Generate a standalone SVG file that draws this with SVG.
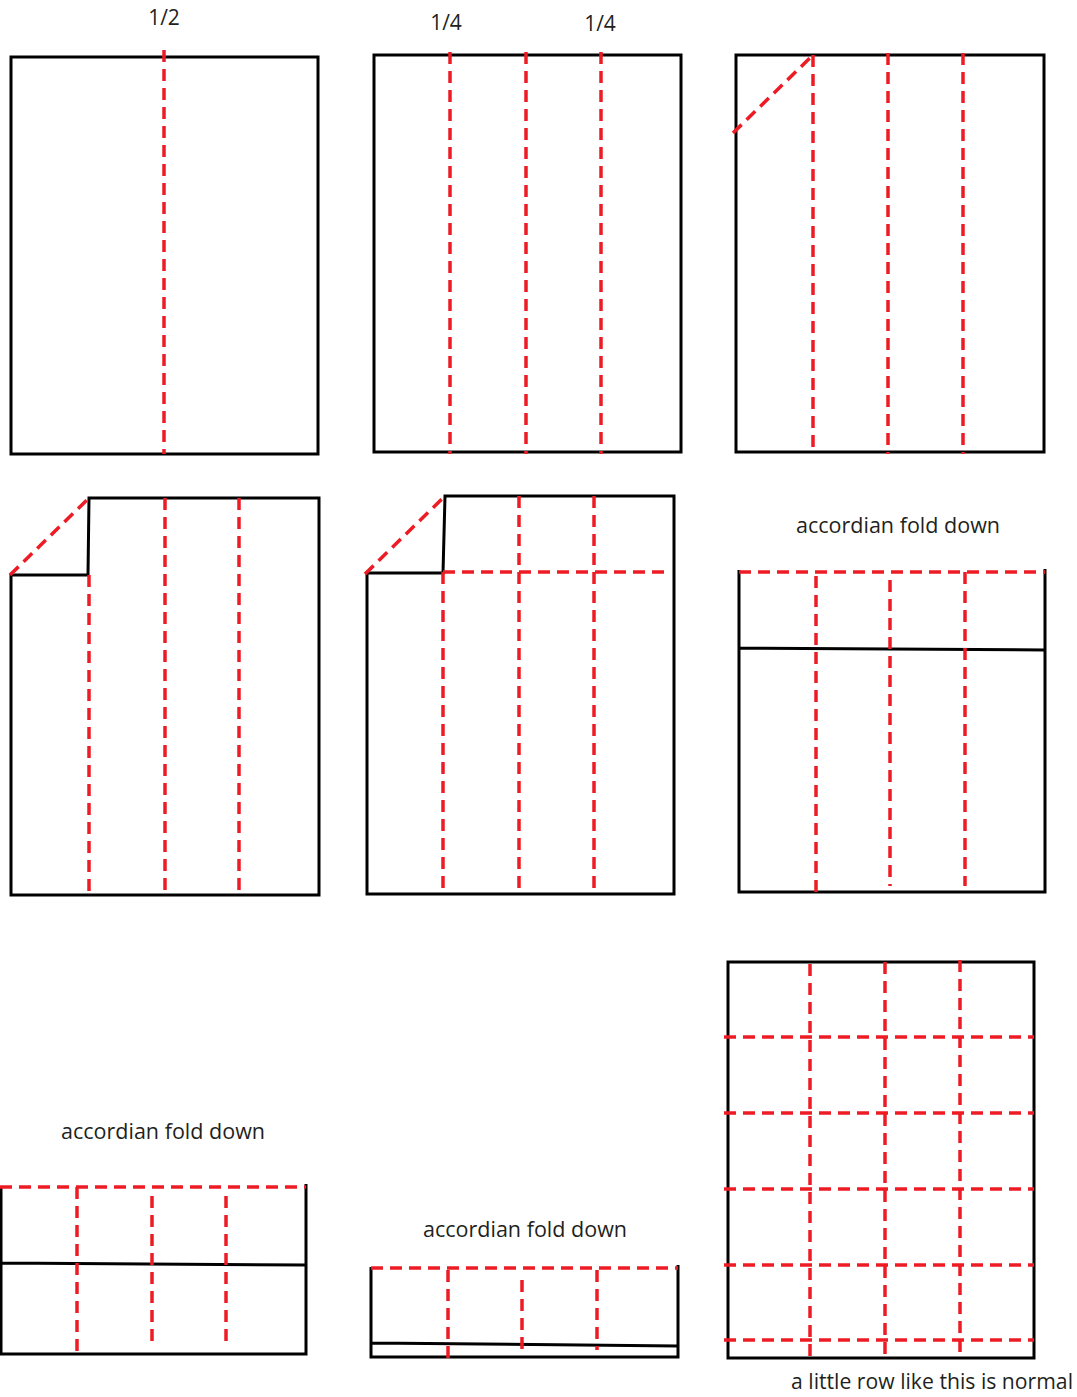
<svg xmlns="http://www.w3.org/2000/svg" width="1077" height="1397" viewBox="0 0 1077 1397">
<style>
.edge{fill:none;stroke:#000;stroke-width:3;stroke-linejoin:miter}
.fold{fill:none;stroke:#ed1c24;stroke-width:3.5;stroke-dasharray:12 7}
.lbl{font-family:"Open Sans","Liberation Sans",sans-serif;font-size:21px;fill:#231f20;text-anchor:middle}
</style>
<rect width="1077" height="1397" fill="#fff"/>
<g id="labels">
<text class="lbl" x="164" y="25">1/2</text>
<text class="lbl" x="446" y="30">1/4</text>
<text class="lbl" x="600" y="31">1/4</text>
<text class="lbl" x="898" y="533" textLength="204" lengthAdjust="spacingAndGlyphs">accordian fold down</text>
<text class="lbl" x="163" y="1139" textLength="204" lengthAdjust="spacingAndGlyphs">accordian fold down</text>
<text class="lbl" x="525" y="1237" textLength="204" lengthAdjust="spacingAndGlyphs">accordian fold down</text>
<text class="lbl" x="932" y="1389" textLength="282" lengthAdjust="spacingAndGlyphs">a little row like this is normal</text>
</g>
<g id="panel1">
<rect class="edge" x="11" y="57" width="307" height="397"/>
<path class="fold" d="M164 50V454"/>
</g>
<g id="panel2">
<rect class="edge" x="374" y="55" width="307" height="397"/>
<path class="fold" d="M450 52V454M526 52V454M601 52V454"/>
</g>
<g id="panel3">
<rect class="edge" x="736" y="55" width="308" height="397"/>
<path class="fold" d="M813 55V454M888 53V454M963 53V454M733 133L813 55"/>
</g>
<g id="panel4">
<path class="edge" d="M89 498H319V895H11V575H88L89 498Z"/>
<path class="fold" d="M10 575L89 498M89 575V895M165 498V895M239 498V895"/>
</g>
<g id="panel5">
<path class="edge" d="M445 496H674V894H367V573H443L445 496Z"/>
<path class="fold" d="M365 574L445 496M443 572V894M519 496V894M594 496V894M443 572H670"/>
</g>
<g id="panel6">
<path class="edge" d="M739 570V892H1045V569M739 648L1045 650"/>
<path class="fold" d="M739 572H1045M816 576V892M890 580V886M965 572V886"/>
</g>
<g id="panel7">
<path class="edge" d="M1 1186V1354H306V1184M1 1263L306 1265"/>
<path class="fold" d="M0 1187H306M77 1187V1354M152 1196V1347M226 1196V1347"/>
</g>
<g id="panel8">
<path class="edge" d="M371 1267V1357H678V1265M371 1343L678 1346"/>
<path class="fold" d="M371 1268H678M448 1270V1358M522 1280V1350M597 1270V1350"/>
</g>
<g id="panel9">
<rect class="edge" x="728" y="962" width="306" height="396"/>
<path class="fold" d="M810 964V1358M885 962V1358M960 960V1358M724 1037H1034M724 1113H1034M724 1189H1034M724 1265H1034M724 1340H1034"/>
</g>
</svg>
